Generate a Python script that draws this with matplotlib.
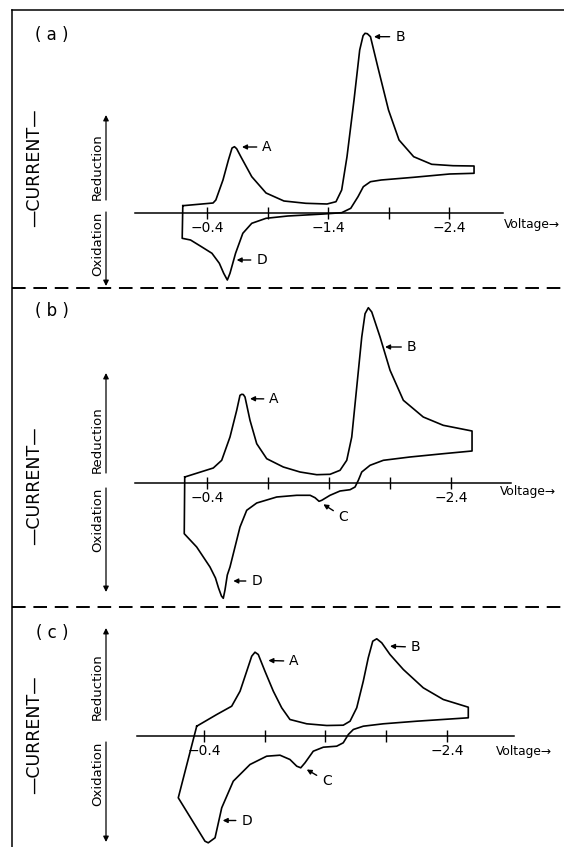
import matplotlib
matplotlib.use('Agg')
import matplotlib.pyplot as plt
from matplotlib.lines import Line2D
from matplotlib.patches import FancyArrowPatch

W, H = 564, 847

# ── Data: cyclic voltammograms (V vs. arbitrary current units) ──
# panel (a)
a_fwd_v = [-0.200, -0.450, -0.473, -0.532, -0.577, -0.607, -0.627, -0.645, -0.681, -0.770, -0.888, -1.036,
           -1.217, -1.392, -1.466, -1.513, -1.557, -1.615, -1.662, -1.690, -1.706, -1.725, -1.751, -1.811,
           -1.900, -1.987, -2.108, -2.257, -2.433, -2.607]
a_fwd_i = [0.70, 0.97, 1.27, 3.27, 5.27, 6.47, 6.60, 6.40, 5.57, 3.60, 1.97, 1.17,
           0.94, 0.87, 1.10, 2.27, 5.60, 11.27, 16.27, 17.70, 17.94, 17.90, 17.60, 14.60,
           10.27, 7.27, 5.60, 4.84, 4.70, 4.67]
a_rev_v = [-2.607, -2.405, -2.108, -1.840, -1.751, -1.692, -1.648, -1.588, -1.513, -1.364, -1.068, -0.888,
           -0.770, -0.696, -0.636, -0.590, -0.568, -0.538, -0.502, -0.441, -0.354, -0.264, -0.195, -0.200]
a_rev_i = [3.94, 3.87, 3.54, 3.27, 3.10, 2.60, 1.60, 0.44, 0.00, -0.13, -0.33, -0.56,
           -1.06, -2.06, -4.06, -6.06, -6.73, -6.06, -5.06, -4.06, -3.40, -2.73, -2.56, 0.70]

# panel (b)
b_fwd_v = [-0.215, -0.449, -0.518, -0.586, -0.641, -0.668, -0.682, -0.695, -0.709, -0.750, -0.805, -0.887,
           -1.023, -1.160, -1.297, -1.406, -1.488, -1.543, -1.584, -1.625, -1.666, -1.693, -1.720, -1.748,
           -1.816, -1.898, -2.007, -2.170, -2.334, -2.570]
b_fwd_i = [0.60, 1.50, 2.27, 4.60, 7.27, 8.77, 8.87, 8.85, 8.60, 6.27, 3.93, 2.43,
           1.60, 1.10, 0.83, 0.87, 1.27, 2.27, 4.60, 9.60, 14.60, 16.93, 17.53, 17.10,
           14.60, 11.27, 8.27, 6.60, 5.77, 5.20]
b_rev_v = [-2.570, -2.334, -2.061, -1.843, -1.734, -1.666, -1.638, -1.611, -1.570, -1.488, -1.406, -1.338,
           -1.316, -1.283, -1.243, -1.133, -0.969, -0.805, -0.723, -0.668, -0.627, -0.586, -0.564, -0.545,
           -0.531, -0.516, -0.492, -0.467, -0.422, -0.313, -0.211, -0.215]
b_rev_i = [3.20, 2.93, 2.60, 2.27, 1.77, 1.10, 0.27, -0.40, -0.67, -0.80, -1.23, -1.73,
           -1.83, -1.47, -1.23, -1.23, -1.40, -2.00, -2.73, -4.40, -6.40, -8.40, -9.20, -10.70,
           -11.53, -11.30, -10.50, -9.50, -8.40, -6.40, -5.07, 0.60]

# panel (c)
c_fwd_v = [-0.340, -0.505, -0.628, -0.697, -0.752, -0.793, -0.820, -0.847, -0.902, -0.971, -1.040, -1.108,
           -1.246, -1.411, -1.547, -1.603, -1.658, -1.712, -1.753, -1.790, -1.823, -1.864, -1.932, -2.042,
           -2.206, -2.371, -2.577]
c_fwd_i = [0.98, 2.15, 2.98, 4.48, 6.48, 7.98, 8.38, 8.15, 6.48, 4.48, 2.82, 1.65,
           1.22, 1.05, 1.08, 1.48, 2.82, 5.48, 7.82, 9.48, 9.72, 9.32, 8.15, 6.65,
           4.82, 3.65, 2.88]
c_rev_v = [-2.577, -2.152, -1.877, -1.712, -1.630, -1.589, -1.547, -1.493, -1.383, -1.300, -1.232, -1.197,
           -1.164, -1.108, -1.026, -0.916, -0.779, -0.641, -0.546, -0.491, -0.435, -0.408, -0.188, -0.340]
c_rev_i = [1.82, 1.48, 1.22, 0.98, 0.65, 0.15, -0.68, -1.02, -1.12, -1.52, -2.68, -3.18,
           -3.02, -2.35, -1.92, -2.02, -2.85, -4.52, -7.18, -10.18, -10.68, -10.52, -6.18, 0.98]

tick_v = [-0.4, -0.9, -1.4, -1.9, -2.4]
a_tick_labels = ['\u22120.4', '', '\u22121.4', '', '\u22122.4']
bc_tick_labels = ['\u22120.4', '', '', '', '\u22122.4']

# peak labels: letter, arrow tip (V, I), letter position (V, I)
a_peaks = [('A', (-0.689, 6.57), (-0.896, 6.57)),
           ('B', (-1.780, 17.6), (-1.995, 17.6)),
           ('D', (-0.645, -4.73), (-0.852, -4.73))]
b_peaks = [('A', (-0.750, 8.43), (-0.947, 8.40)),
           ('B', (-1.857, 13.6), (-2.075, 13.6)),
           ('C', (-1.351, -2.13), (-1.515, -3.40)),
           ('D', (-0.613, -9.8), (-0.805, -9.8))]
c_peaks = [('A', (-0.930, 7.55), (-1.141, 7.48)),
           ('B', (-1.932, 8.98), (-2.144, 8.88)),
           ('C', (-1.246, -3.35), (-1.411, -4.52)),
           ('D', (-0.554, -8.45), (-0.752, -8.45))]

# ── Layout (pixels of the 564x847 page) ─────────────────────────
panels = [
    dict(tag='( a )', top=0, bot=288, axis_y=212.7, x0=207.0, ppv=121.0, ax_from=0.195, ax_to=-2.850,
         v_at=(-2.850, -1.2), fwd=(a_fwd_v, a_fwd_i), rev=(a_rev_v, a_rev_i), ticks=a_tick_labels,
         peaks=a_peaks, tag_y=35, cur_y=168, red=(200, 115), oxi=(212, 286)),
    dict(tag='( b )', top=288, bot=607, axis_y=483.0, x0=207.3, ppv=122.0, ax_from=0.193, ax_to=-2.889,
         v_at=(-2.799, -0.9), fwd=(b_fwd_v, b_fwd_i), rev=(b_rev_v, b_rev_i), ticks=bc_tick_labels,
         peaks=b_peaks, tag_y=311, cur_y=486, red=(473, 373), oxi=(488, 592)),
    dict(tag='( c )', top=607, bot=847, axis_y=736.0, x0=204.0, ppv=121.4, ax_from=0.152, ax_to=-2.954,
         v_at=(-2.805, -1.5), fwd=(c_fwd_v, c_fwd_i), rev=(c_rev_v, c_rev_i), ticks=bc_tick_labels,
         peaks=c_peaks, tag_y=633, cur_y=735, red=(720, 628), oxi=(742, 842)),
]

fig = plt.figure(figsize=(W / 100, H / 100), dpi=100)
fig.patch.set_facecolor('white')


def fx(x):
    return x / W


def fy(y):
    return 1 - y / H


for p in panels:
    ax = fig.add_axes([0, fy(p['bot']), 1, (p['bot'] - p['top']) / H])
    ax.set_facecolor('none')
    ax.set_xlim(-0.4 + p['x0'] / p['ppv'], -0.4 - (W - p['x0']) / p['ppv'])
    ax.set_ylim((p['axis_y'] - p['bot']) / 10, (p['axis_y'] - p['top']) / 10)

    v = list(p['fwd'][0]) + list(p['rev'][0])
    i = list(p['fwd'][1]) + list(p['rev'][1])
    ax.plot(v, i, color='black', lw=1.2, solid_joinstyle='round')

    for s in ['left', 'right', 'top']:
        ax.spines[s].set_visible(False)
    ax.spines['bottom'].set_position(('data', 0))
    ax.spines['bottom'].set_bounds(p['ax_to'], p['ax_from'])
    ax.spines['bottom'].set_linewidth(1.1)
    ax.set_yticks([])
    ax.set_xticks(tick_v)
    ax.set_xticklabels(p['ticks'])
    ax.tick_params(axis='x', direction='inout', length=8, width=1.0, pad=2, labelsize=10)

    ax.text(p['v_at'][0], p['v_at'][1], 'Voltage\u2192', ha='left', va='center', fontsize=8.8)

    for letter, tip, pos in p['peaks']:
        ax.annotate(letter, xy=tip, xytext=pos, ha='center', va='center', fontsize=10,
                    arrowprops=dict(arrowstyle='-|>', color='black', lw=1.0,
                                    mutation_scale=7, shrinkA=2, shrinkB=0))

    # left-hand labels
    fig.text(fx(52), fy(p['tag_y']), p['tag'], ha='center', va='center', fontsize=12)
    fig.text(fx(34), fy(p['cur_y']), '\u2014CURRENT\u2014', rotation=90,
             ha='center', va='center', fontsize=12.5)
    r0, r1 = p['red']
    o0, o1 = p['oxi']
    fig.add_artist(FancyArrowPatch((fx(106), fy(r0)), (fx(106), fy(r1)), transform=fig.transFigure,
                                   arrowstyle='-|>', mutation_scale=8, lw=0.9, color='black',
                                   shrinkA=0, shrinkB=0))
    fig.add_artist(FancyArrowPatch((fx(106), fy(o0)), (fx(106), fy(o1)), transform=fig.transFigure,
                                   arrowstyle='-|>', mutation_scale=8, lw=0.9, color='black',
                                   shrinkA=0, shrinkB=0))
    fig.text(fx(104), fy(r0), 'Reduction', rotation=90, ha='right', va='bottom', fontsize=9.5)
    fig.text(fx(104), fy(o0), 'Oxidation', rotation=90, ha='right', va='top', fontsize=9.5)

# ── frame and dashed separators ────────────────────────────────
fig.add_artist(Line2D([fx(12.3), fx(12.3)], [fy(10.5), 0], color='black', lw=1.1))
fig.add_artist(Line2D([fx(12.3), 1], [fy(10.5), fy(10.5)], color='black', lw=1.1))
for yy in [288, 607]:
    fig.add_artist(Line2D([fx(12.3), 1], [fy(yy), fy(yy)], color='black', lw=1.4,
                          linestyle=(0, (7, 4))))

fig.savefig('out.png', dpi=100, facecolor='white')
